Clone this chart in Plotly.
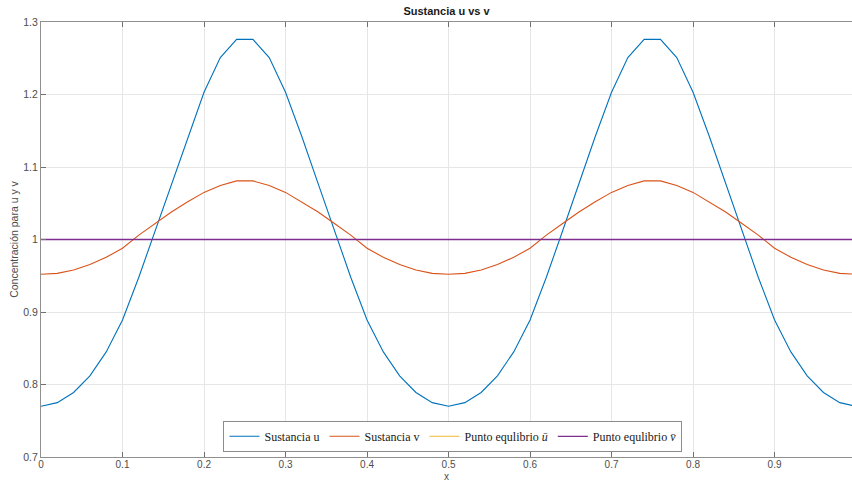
import plotly.graph_objects as go

# Spatial grid (step 0.02 over one unit length)
x = [round(0.02 * k, 2) for k in range(51)]

# Concentration of substance u
u = [0.770, 0.775, 0.789, 0.812, 0.845, 0.889, 0.948, 1.012, 1.077, 1.142, 1.203, 1.251, 1.276,
     1.276, 1.251, 1.203, 1.142, 1.077, 1.012, 0.948, 0.889, 0.845, 0.812, 0.789, 0.775,
     0.770, 0.775, 0.789, 0.812, 0.845, 0.889, 0.948, 1.012, 1.077, 1.142, 1.203, 1.251, 1.276,
     1.276, 1.251, 1.203, 1.142, 1.077, 1.012, 0.948, 0.889, 0.845, 0.812, 0.789, 0.775, 0.770]

# Concentration of substance v
v = [0.952, 0.9533, 0.958, 0.9655, 0.9755, 0.988, 1.006, 1.022, 1.038, 1.052, 1.065, 1.0745, 1.0808,
     1.0808, 1.0745, 1.065, 1.052, 1.038, 1.022, 1.006, 0.988, 0.9755, 0.9655, 0.958, 0.9533,
     0.952, 0.9533, 0.958, 0.9655, 0.9755, 0.988, 1.006, 1.022, 1.038, 1.052, 1.065, 1.0745, 1.0808,
     1.0808, 1.0745, 1.065, 1.052, 1.038, 1.022, 1.006, 0.988, 0.9755, 0.9655, 0.958, 0.9533, 0.952]

# Equilibrium values
u_eq = 1.0
v_eq = 1.0

x_ticks = [0, 0.1, 0.2, 0.3, 0.4, 0.5, 0.6, 0.7, 0.8, 0.9]
y_ticks = [0.7, 0.8, 0.9, 1.0, 1.1, 1.2, 1.3]

fig = go.Figure()
fig.add_trace(go.Scatter(x=x, y=u, mode="lines", name="Sustancia u",
                         line=dict(color="#0072BD", width=1.1)))
fig.add_trace(go.Scatter(x=x, y=v, mode="lines", name="Sustancia v",
                         line=dict(color="#D95319", width=1.1)))
fig.add_trace(go.Scatter(x=x, y=[u_eq] * len(x), mode="lines", name="Punto equlibrio <i>ū</i>",
                         line=dict(color="#EDB120", width=0.9)))
fig.add_trace(go.Scatter(x=x, y=[v_eq] * len(x), mode="lines", name="Punto equlibrio <i>v̄</i>",
                         line=dict(color="#7E2F8E", width=1.3)))

axis_font = dict(family="Liberation Sans, Arial, sans-serif", size=10.5, color="#4d4d4d")
xlabel_font = dict(family="Liberation Sans, Arial, sans-serif", size=10, color="#4d4d4d")

fig.update_layout(
    width=852, height=484,
    margin=dict(l=41, r=0, t=22, b=27),
    paper_bgcolor="white", plot_bgcolor="white",
    title=dict(text="<b>Sustancia u vs v</b>", x=(41 + 852) / 2 / 852, xanchor="center",
               y=1 - 11 / 484, yanchor="middle",
               font=dict(family="Liberation Sans, Arial, sans-serif", size=11, color="#1a1a1a")),
    showlegend=True,
    legend=dict(orientation="h", x=0.508, xanchor="center", y=0.012, yanchor="bottom",
                bgcolor="white", bordercolor="#8c8c8c", borderwidth=1,
                font=dict(family="Liberation Serif, DejaVu Serif, serif", size=12, color="#1a1a1a"),
                itemwidth=30, tracegroupgap=0),
    xaxis=dict(range=[0, 0.995], tickvals=x_ticks, ticks="inside", ticklen=5,
               tickcolor="#707070", showline=True, linecolor="#909090", linewidth=1,
               mirror="ticks", showgrid=True, gridcolor="#e6e6e6", gridwidth=1,
               zeroline=False, tickfont=xlabel_font, ticklabelstandoff=-2),
    yaxis=dict(range=[0.7, 1.3], tickvals=y_ticks, ticks="inside", ticklen=5,
               tickcolor="#707070", showline=True, linecolor="#909090", linewidth=1,
               showgrid=True, gridcolor="#e6e6e6", gridwidth=1,
               zeroline=False, tickfont=axis_font,
               title=dict(text="Concentración para u y v", font=axis_font, standoff=2)),
    annotations=[dict(text="x", xref="paper", yref="paper", x=0.5, y=-27 / 435,
                      xanchor="center", yanchor="bottom", showarrow=False, font=xlabel_font)],
)

fig.write_html("out.html")
